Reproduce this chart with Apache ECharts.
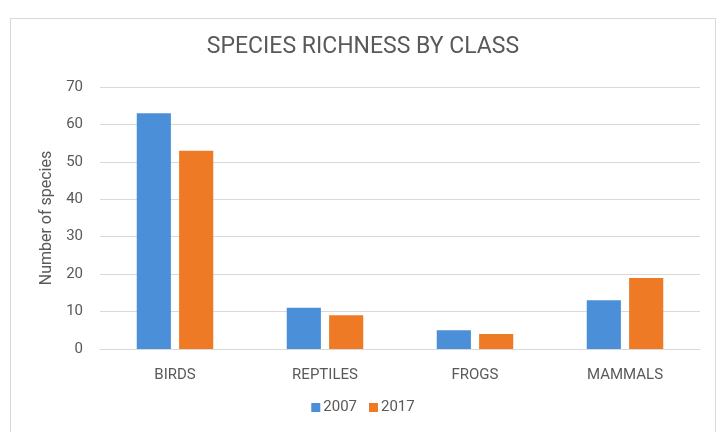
<!DOCTYPE html>
<html>
<head>
<meta charset="utf-8">
<script src="https://cdn.jsdelivr.net/npm/echarts@6/dist/echarts.min.js"></script>
<style>
  html, body { margin: 0; padding: 0; background: #ffffff; }
  #frame { position: absolute; left: 10px; top: 18px; width: 706px; height: 430px; border: 1px solid #d9d9d9; box-sizing: border-box; }
  #chart { position: absolute; left: 0; top: 0; width: 726px; height: 432px; }
</style>
</head>
<body>
<div id="frame"></div>
<div id="chart"></div>
<script>
const categories = ['BIRDS', 'REPTILES', 'FROGS', 'MAMMALS'];
const seriesNames = ['2007', '2017'];
const values2007 = [63, 11, 5, 13];
const values2017 = [53, 9, 4, 19];
const yTicks = { min: 0, max: 70, interval: 10 };

const chart = echarts.init(document.getElementById('chart'), null, { renderer: 'canvas' });
const FONT = 'Roboto';
const TXT = '#595959';
chart.setOption({
  backgroundColor: 'transparent',
  animation: false,
  title: {
    text: 'SPECIES RICHNESS BY CLASS',
    left: 'center',
    top: 31,
    textStyle: { fontFamily: FONT, fontSize: 23, fontWeight: 'normal', color: TXT }
  },
  legend: {
    data: seriesNames,
    bottom: 12,
    left: 'center',
    itemWidth: 9,
    itemHeight: 9,
    itemGap: 12,
    icon: 'rect',
    textStyle: { fontFamily: FONT, fontSize: 15, color: TXT, padding: [0, 0, 0, -2] }
  },
  grid: { left: 100, right: 26, top: 87, bottom: 83, containLabel: false },
  xAxis: {
    type: 'category',
    data: categories,
    axisLine: { show: true, lineStyle: { color: '#d9d9d9' } },
    axisTick: { show: false },
    axisLabel: { fontFamily: FONT, fontSize: 15, color: TXT, margin: 19 }
  },
  yAxis: {
    type: 'value',
    min: yTicks.min,
    max: yTicks.max,
    interval: yTicks.interval,
    name: 'Number of species',
    nameLocation: 'middle',
    nameGap: 43,
    nameTextStyle: { fontFamily: FONT, fontSize: 16, color: TXT },
    axisLine: { show: false },
    axisTick: { show: false },
    axisLabel: { fontFamily: FONT, fontSize: 15, color: TXT, margin: 17 },
    splitLine: { lineStyle: { color: '#d9d9d9' } }
  },
  series: [
    { name: seriesNames[0], type: 'bar', data: values2007, barGap: '24%', barCategoryGap: '49%', itemStyle: { color: '#4b8fd8' } },
    { name: seriesNames[1], type: 'bar', data: values2017, barGap: '24%', barCategoryGap: '49%', itemStyle: { color: '#ef7a26' } }
  ]
});
</script>
</body>
</html>
